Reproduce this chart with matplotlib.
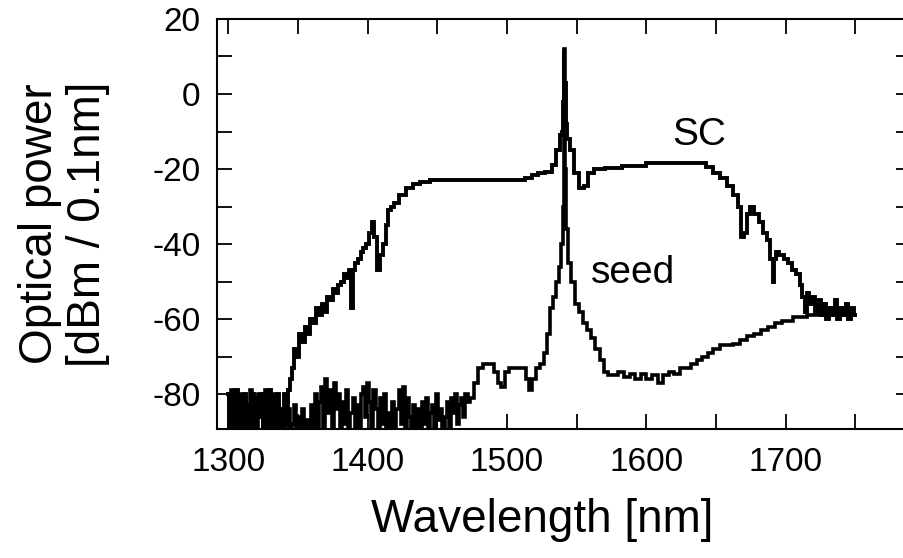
import numpy as np
import matplotlib
matplotlib.use("Agg")
import matplotlib.pyplot as plt
from matplotlib.ticker import MultipleLocator

plt.rcParams['font.family'] = ['Liberation Sans', 'DejaVu Sans']
plt.rcParams['axes.unicode_minus'] = False

# Noise floor of the SC trace (1300-1345 nm, every 1.5 nm)
sc_noise_start, sc_noise_step = 1300, 1.5
sc_noise_dbm = [-80, -95, -81, -90, -79, -96, -82, -88, -80, -95, -83, -92, -80, -97, -81, -86,
                -80, -94, -82, -96, -79, -90, -81, -95, -80, -84, -96, -80, -88, -79, -76]

# SC trace after the noise floor
sc_wl = [1346, 1348, 1350, 1352, 1354, 1356, 1358, 1360, 1362, 1364, 1366, 1368, 1370, 1372,
         1374, 1376, 1378, 1380, 1382, 1384, 1386, 1388, 1389, 1390, 1392, 1394, 1396, 1398,
         1400, 1402, 1404, 1406, 1408, 1410, 1412, 1414, 1416, 1418, 1420, 1425, 1430, 1435,
         1440, 1450, 1470, 1490, 1510, 1516, 1520, 1525, 1530, 1534, 1537, 1539, 1539.5, 1540.5,
         1541, 1541.5, 1542, 1542.5, 1544, 1546, 1550, 1554, 1556, 1560, 1565, 1575, 1590, 1610,
         1630, 1640, 1645, 1650, 1655, 1660, 1664, 1667, 1669, 1671, 1673, 1676, 1679, 1682,
         1685, 1688, 1690, 1691, 1692, 1694, 1697, 1700, 1703, 1706, 1709, 1711, 1713, 1714,
         1716, 1718, 1720, 1722, 1724, 1726, 1728, 1730, 1732, 1734, 1736, 1738, 1740, 1742,
         1744, 1746, 1748, 1750]
sc_dbm = [-73, -68, -70, -64, -66, -62, -64, -60, -61, -57, -59, -56, -58, -54,
          -55, -52, -53, -51, -50, -48, -49, -47, -57, -47, -45, -44, -42, -41,
          -40, -37, -34, -38, -47, -43, -40, -35, -31, -30, -29, -27, -25, -24,
          -23.5, -23, -23, -23, -23, -22.5, -21.5, -21, -20.8, -19, -15, -11, -10, -2,
          12, -6, 3, -8, -12, -15, -21, -25, -24.5, -21, -20, -19.7, -19.2, -18.5,
          -18.5, -18.5, -19.5, -21, -22.5, -24.5, -27, -30, -38, -37, -32, -30, -32, -34,
          -37, -39, -44, -50, -44, -42, -43, -44, -45, -47, -48, -51, -54, -58,
          -53, -56, -54, -58, -55, -59, -56, -60, -57, -59, -55, -60, -57, -59,
          -56, -60, -57, -59]

# Noise floor of the seed trace (1300-1474 nm, every 1.5 nm)
seed_noise_start, seed_noise_step = 1300, 1.5
seed_noise_dbm = [-80, -88, -79, -93, -82, -86, -80, -95, -81, -84, -90, -79, -87,
                  -82, -94, -80, -85, -89, -79, -92, -81, -86, -80, -96, -83, -88,
                  -85, -95, -90, -84, -97, -88, -83, -94, -86, -96, -84, -91, -87,
                  -95, -83, -89, -80, -93, -82, -78, -90, -76, -85, -79, -92, -77,
                  -84, -80, -94, -82, -88, -79, -96, -85, -81, -90, -83, -95, -80,
                  -78, -86, -77, -82, -91, -79, -84, -95, -81, -88, -80, -93, -85,
                  -90, -82, -96, -84, -79, -88, -78, -93, -81, -86, -95, -83, -89,
                  -84, -94, -82, -88, -81, -96, -85, -83, -91, -80, -87, -84, -93,
                  -86, -82, -90, -81, -85, -80, -88, -83, -81, -86, -80, -82, -81]

# Seed trace after the noise floor
seed_wl = [1475, 1478, 1481, 1485, 1489, 1492, 1495, 1497, 1500, 1503, 1508, 1512, 1515, 1517,
           1519, 1522, 1525, 1528, 1530, 1532, 1534, 1536, 1538, 1540, 1541, 1541.5, 1542, 1543,
           1545, 1547, 1550, 1553, 1556, 1559, 1562, 1565, 1568, 1571, 1574, 1578, 1582, 1586,
           1590, 1594, 1598, 1602, 1606, 1610, 1614, 1618, 1622, 1626, 1630, 1634, 1638, 1642,
           1646, 1650, 1655, 1660, 1665, 1670, 1675, 1680, 1685, 1690, 1695, 1700, 1710, 1720,
           1730, 1740, 1750]
seed_dbm = [-81, -77, -73, -72, -72, -74, -77, -78, -74, -73, -73, -73, -76, -79,
            -76, -73, -72, -69, -64, -57, -54, -50, -46, -40, -30, 12, -20, -36,
            -45, -50, -56, -58, -61, -63, -65, -68, -71, -74, -75, -75, -74, -75.5,
            -74.5, -76, -74.5, -76, -75, -77, -75, -74, -74.5, -73, -73, -72, -71, -70,
            -69, -68, -67, -67, -66.5, -65.5, -64.5, -64, -63, -62, -61, -60.5, -59.5, -59,
            -59, -58.5, -59]

x_ticks = [1300, 1400, 1500, 1600, 1700]
y_ticks = [-80, -60, -40, -20, 0, 20]

sc_noise_wl = sc_noise_start + sc_noise_step * np.arange(len(sc_noise_dbm))
seed_noise_wl = seed_noise_start + seed_noise_step * np.arange(len(seed_noise_dbm))

fig = plt.figure(figsize=(9.04, 5.58), dpi=100)
ax = fig.add_axes([0.240, 0.231, 0.768, 0.735])

ax.plot(np.concatenate([seed_noise_wl, seed_wl]), np.concatenate([seed_noise_dbm, seed_dbm]),
        color='black', lw=2.6, drawstyle='steps-mid', solid_joinstyle='miter')
ax.plot(np.concatenate([sc_noise_wl, sc_wl]), np.concatenate([sc_noise_dbm, sc_dbm]),
        color='black', lw=2.8, drawstyle='steps-mid', solid_joinstyle='miter')

ax.set_xlim(1292, 1790)
ax.set_ylim(-89.3, 20)
ax.set_xticks(x_ticks)
ax.set_yticks(y_ticks)
ax.xaxis.set_minor_locator(MultipleLocator(50))
ax.yaxis.set_minor_locator(MultipleLocator(10))
ax.tick_params(which='both', direction='in', top=True, right=True, length=11, width=1.3,
               labelsize=24)
ax.tick_params(axis='x', pad=13)
ax.tick_params(axis='y', pad=12)
for s in ax.spines.values():
    s.set_linewidth(1.5)

ax.text(1638, -13.6, 'SC', fontsize=28, ha='center', va='baseline')
ax.text(1560, -50.4, 'seed', fontsize=28, ha='left', va='baseline')

fig.text(542 / 904, 1 - 520 / 558, 'Wavelength [nm]', fontsize=33, ha='center', va='center')
fig.text(64 / 904, 1 - 224 / 558, 'Optical power\n[dBm / 0.1nm]', fontsize=33, rotation=90,
         ha='center', va='center', linespacing=1.1, multialignment='center')

fig.savefig('out.png', dpi=100)
